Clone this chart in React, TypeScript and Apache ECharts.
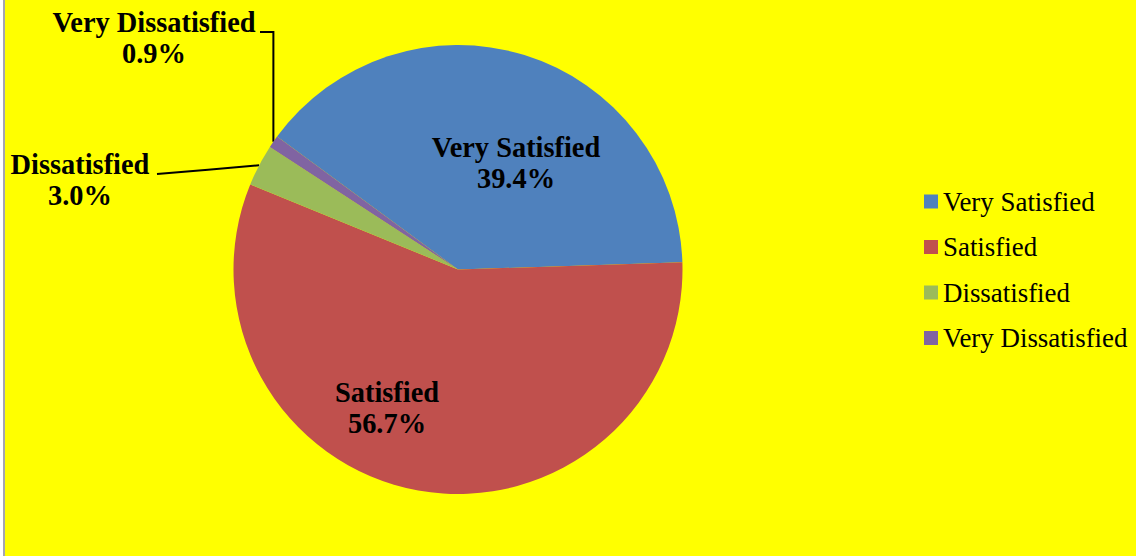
import React, { useEffect, useRef } from "react";
import * as echarts from "echarts";

const categories = ["Very Satisfied", "Satisfied", "Dissatisfied", "Very Dissatisfied"];
const values = [39.4, 56.7, 3.0, 0.9];
const colors = ["#4F81BD", "#C0504D", "#9BBB59", "#8064A2"];
const insideSlices = [true, true, false, false];

// label anchor positions (centre of each label block), in pixels
const labelPos: number[][] = [
  [516, 163],
  [387, 408],
  [80, 180],
  [154, 38],
];

const FONT = "'Liberation Serif', 'Times New Roman', serif";

export default function App() {
  const ref = useRef<HTMLDivElement>(null);

  useEffect(() => {
    if (!ref.current) return;
    const chart = echarts.init(ref.current, undefined, { renderer: "svg" });
    chart.setOption({
      animation: false,
      legend: {
        orient: "vertical",
        left: 924,
        top: 188,
        padding: 0,
        itemWidth: 14,
        itemHeight: 14,
        itemGap: 18.5,
        icon: "rect",
        data: categories,
        textStyle: { fontFamily: FONT, fontSize: 26.9, lineHeight: 26, color: "#000" },
      },
      series: [
        {
          type: "pie",
          center: [458, 269.5],
          radius: 224.5,
          startAngle: 143.7,
          clockwise: true,
          avoidLabelOverlap: false,
          itemStyle: { borderWidth: 0 },
          label: {
            fontFamily: FONT,
            fontSize: 28.4,
            lineHeight: 31,
            fontWeight: "bold",
            color: "#000",
            align: "center",
            formatter: (p: any) => `${p.name}\n${Number(p.value).toFixed(1)}%`,
          },
          labelLine: {
            show: true,
            lineStyle: { color: "#000", width: 2 },
          },
          labelLayout: (params: any) => {
            const i = params.dataIndex;
            const [x, y] = labelPos[i];
            const out: any = { x, y, align: "center", verticalAlign: "middle" };
            if (!insideSlices[i] && params.labelLinePoints) {
              const p0 = params.labelLinePoints[0];
              if (i === 3) {
                out.labelLinePoints = [p0, [p0[0], 32], [260, 32]];
              } else {
                const end = [157, 174];
                out.labelLinePoints = [p0, [(p0[0] + end[0]) / 2, (p0[1] + end[1]) / 2], end];
              }
            }
            return out;
          },
          data: categories.map((name, i) => ({
            name,
            value: values[i],
            itemStyle: { color: colors[i] },
            label: { position: insideSlices[i] ? "inside" : "outside" },
            labelLine: { show: !insideSlices[i] },
          })),
        },
      ],
    });
    return () => chart.dispose();
  }, []);

  return (
    <div style={{ position: "fixed", left: 0, top: 0, width: 1136, height: 556, background: "#fff" }}>
      <div
        style={{
          position: "absolute",
          left: 3,
          top: 0,
          width: 1133,
          height: 556,
          background: "#FFFF00",
          borderLeft: "2px solid #A5A5B0",
          boxSizing: "border-box",
        }}
      />
      <div ref={ref} style={{ position: "absolute", left: 0, top: 0, width: 1136, height: 556 }} />
    </div>
  );
}
